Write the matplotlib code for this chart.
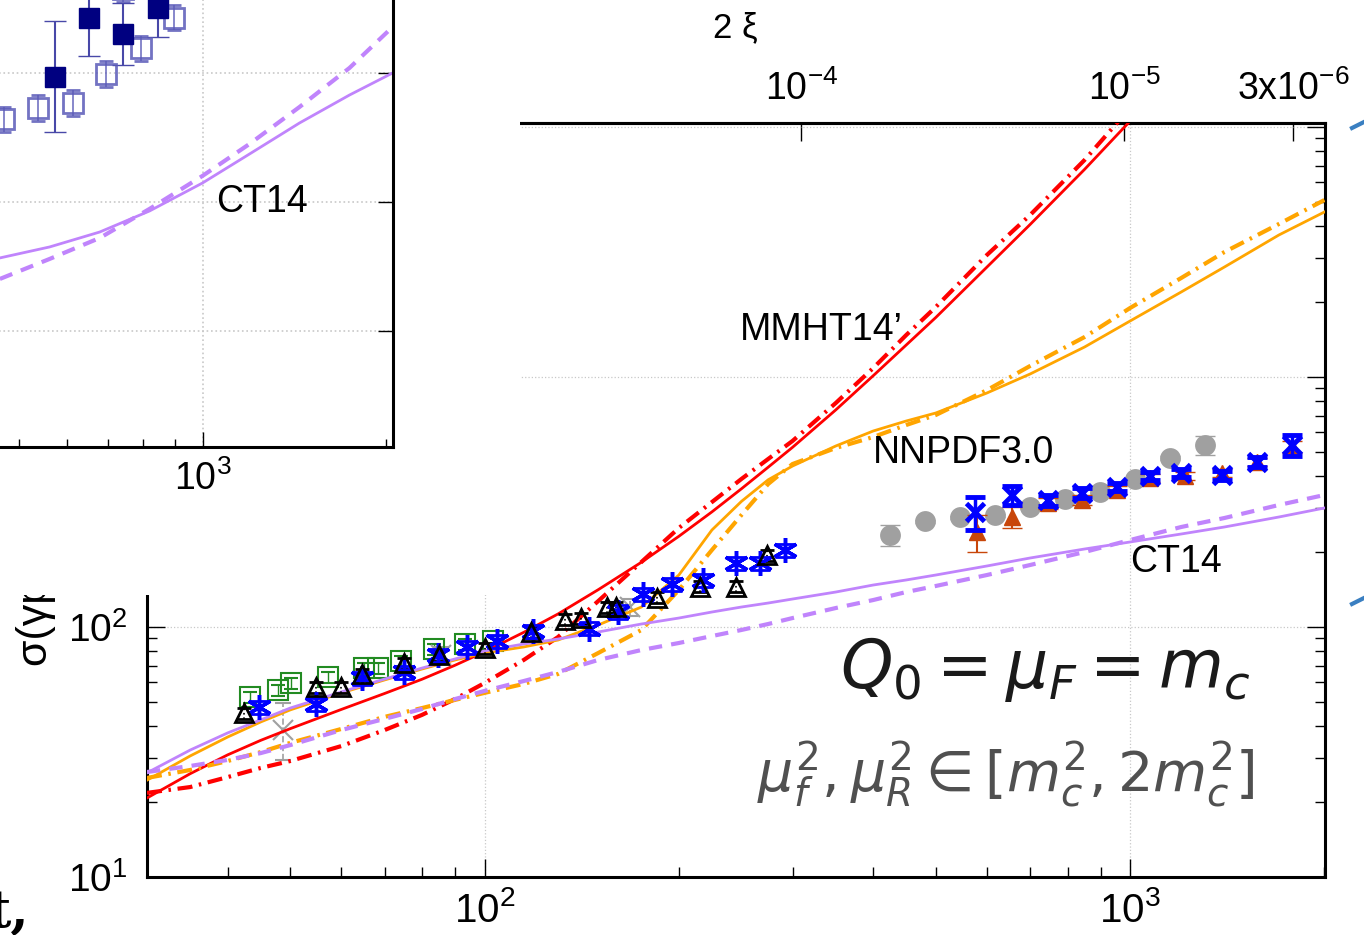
import numpy as np
import matplotlib
matplotlib.use("Agg")
import matplotlib.pyplot as plt
from matplotlib.patches import Rectangle
from matplotlib.lines import Line2D
from matplotlib.ticker import FixedLocator, NullFormatter, NullLocator

plt.rcParams['font.family'] = ['Liberation Sans', 'DejaVu Sans']
plt.rcParams['mathtext.fontset'] = 'custom'
plt.rcParams['mathtext.rm'] = 'Liberation Sans'
plt.rcParams['mathtext.it'] = 'Liberation Sans:italic'
plt.rcParams['mathtext.bf'] = 'Liberation Sans:bold'

# theory curves, W in GeV, sigma in nb
W = [30, 35, 40, 45, 50, 60, 70, 80, 90, 100, 115, 130, 150, 175, 200, 225, 250, 275,
     300, 350, 400, 450, 500, 600, 700, 850, 1000, 1200, 1400, 1700, 2000]
mmht = [20.7, 25.9, 30.8, 35.2, 39.2, 46.8, 54.2, 61.8, 70.3, 79.6, 95.2, 112.8, 141,
        181.6, 230.6, 288.7, 357.2, 435.7, 523.4, 738.6, 1012, 1343, 1730, 2751, 4074,
        6767, 10560, 17460, 26760, 46720, 73730]
mmht_dd = [21.7, 22.9, 25.1, 27.3, 29.1, 33.4, 38.7, 44.5, 51.5, 59.7, 73.8, 91.2, 127,
           182, 249, 316, 391, 470, 555, 787, 1086, 1472, 1905, 3076, 4446, 7379, 11910,
           18880, 27290, 45290, 71780]
nnpdf = [24.4, 30.5, 36.3, 41.7, 46.6, 54.5, 61.4, 67.9, 73.8, 78.7, 83.2, 88.7, 101.9,
         120.2, 161.4, 244.3, 318, 388, 440.5, 529.7, 608.1, 666.8, 717.8, 863, 1028,
         1318, 1675, 2188, 2754, 3698, 4571]
nnpdf_dd = [24.9, 26.8, 29.1, 31.6, 34.4, 39.1, 43.7, 47.4, 51.1, 54.5, 59.2, 64.9, 78.7,
            97.3, 140.6, 203.2, 280.5, 373.3, 448.7, 520, 575.4, 642.7, 704.7, 886, 1107,
            1445, 1888, 2489, 3162, 4093, 5105]
ct14 = [26.1, 32.2, 37.7, 42.5, 47.4, 55, 61.9, 68.5, 74.5, 80.2, 85.5, 89.5, 95.5, 102.8,
        108.6, 114.8, 120.2, 124.7, 129.4, 138, 147.2, 154.2, 161.4, 175.4, 188.8, 205.1,
        218.8, 235.5, 251.2, 275.4, 299.2]
ct14_dash = [26.3, 27.8, 29.4, 31.3, 33.7, 38.7, 42.9, 47, 51.5, 55.5, 60.8, 66.1, 73.8,
             80.9, 86.3, 92, 97.3, 102.8, 108.6, 119.1, 128.2, 138, 145.9, 161.4, 177,
             199.5, 222.8, 251.2, 272.9, 307.6, 337.3]

# data points
tri_W = [42.4, 54.8, 59.9, 64.7, 75, 84.9, 100, 118, 133, 141, 155, 160, 185, 216, 245, 274]
tri_s = [45.3, 57.5, 57.5, 64.9, 71.8, 77.3, 82.4, 95.5, 107, 108.6, 120, 120, 131, 145, 145, 194]

star_W = [44.7, 54.8, 64.7, 75, 84.6, 94.1, 104.4, 118.7, 144.9, 161, 176, 195.4, 218, 245, 267, 292]
star_s = [47.9, 49.2, 62.5, 66.1, 77.3, 83.2, 87.9, 96.4, 98.6, 115, 135.5, 148.6, 154, 180, 180, 203]

sq_W = [43.3, 47.8, 50.1, 57.2, 65, 68.3, 74.1, 83.4, 93.1, 102.9]
sq_s = [52.5, 56, 59.7, 63.1, 68.5, 68.5, 73.1, 81.7, 85.5, 87.9]

gx_W = [48.8, 85.5, 168]
gx_s = [38.7, 77.3, 120]
gx_lo = [9.3, 6, 9]
gx_hi = [11, 6, 9]

gc_W = [425, 482, 546, 618, 700, 793, 899, 1018, 1153, 1306]
gc_s = [233, 265, 275, 280, 302, 325, 347, 391, 474, 535]
gc_err = [22, 4, 4, 4, 5, 5, 5, 6, 7, 46]

bt_W = [580, 657, 747, 843, 955, 1074, 1217, 1388, 1573, 1782]
bt_s = [240, 275, 313, 322, 353, 394, 402, 413, 457, 525]
bt_err = [40, 26, 16, 14, 12, 14, 14, 14, 18, 30]

bx_W = [575, 657, 747, 843, 955, 1074, 1200, 1388, 1573, 1782]
bx_s = [288, 337, 322, 344, 363, 402, 413, 405, 457, 535]
bx_err = [43, 30, 16, 16, 14, 14, 14, 16, 22, 50]

# inset panel (linear y)
in_W = [466, 562, 679, 819, 1000, 1194, 1441, 1740, 2047]
in_ct14 = [156.6, 165.1, 176.7, 193.0, 214.7, 237.2, 261.2, 282.9, 300]
in_ct14_dash = [140.3, 155.8, 172.1, 194.6, 220.2, 245, 273.6, 303.9, 335.7]
in_f_W = [573, 651, 740, 844]
in_f_s = [297, 343, 330, 350]
in_f_err = [43, 30, 24, 22]
in_o_W = [474, 537, 613, 696, 740, 792, 897, 960]
in_o_s = [264, 273, 277, 299, 365, 319, 343, 372]

red = '#ff0000'
orange = '#ffa500'
purple = '#c084fc'
blue = '#0000ff'

fig = plt.figure(figsize=(13.64, 9.35), dpi=100)
ax = fig.add_axes([147/1364, 58/935, 1178/1364, 754/935])
ax.set_xscale('log')
ax.set_yscale('log')
ax.set_xlim(30, 2004)
ax.set_ylim(10, 10375)

ax.plot(W, mmht, color=red, lw=2, zorder=4)
ax.plot(W, mmht_dd, color=red, lw=3, ls=(0, (3.6, 1.6, 0.6, 1.6)), zorder=4)
ax.plot(W, nnpdf, color=orange, lw=2, zorder=4)
ax.plot(W, nnpdf_dd, color=orange, lw=3, ls=(0, (3.6, 1.6, 0.6, 1.6)), zorder=4)
ax.plot(W, ct14, color=purple, lw=2, zorder=4)
ax.plot(W, ct14_dash, color=purple, lw=3, ls=(0, (3.2, 2.2)), zorder=4)

# markers
ax.errorbar(sq_W, sq_s, yerr=np.array(sq_s)*0.05, fmt='s', ms=15, mfc='none',
            mec='#228b22', mew=1.5, ecolor='#228b22', elinewidth=1, capsize=5, zorder=3)
eb = ax.errorbar(gx_W, gx_s, yerr=[gx_lo, gx_hi], fmt='x', ms=14, mew=1.5,
                 color='#a0a0a0', ecolor='#a0a0a0', elinewidth=1.2, capsize=6, zorder=3)
eb[2][0].set_linestyle('--')
eb = ax.errorbar(tri_W, tri_s, yerr=np.array(tri_s)*0.05, fmt='^', ms=13, mfc='none',
                 mec='black', mew=2, ecolor='black', elinewidth=1.2, capsize=5, zorder=5)
eb[2][0].set_linestyle(':')
ax.errorbar(star_W, star_s, yerr=np.array(star_s)*0.06, fmt='none',
            ecolor=blue, elinewidth=2, capsize=7, capthick=2, zorder=5)
ax.plot(star_W, star_s, ls='none', marker=(6, 2, 0), ms=18, mec=blue, mew=2.5, zorder=5)

ax.errorbar(gc_W, gc_s, yerr=gc_err, fmt='o', ms=15, color='#a0a0a0', mec='none',
            ecolor='#a0a0a0', elinewidth=1.5, capsize=7, zorder=3)
ax.errorbar(bt_W, bt_s, yerr=bt_err, fmt='^', ms=12, color='#c8460a', mec='#c8460a',
            ecolor='#c8460a', elinewidth=1.5, capsize=7, zorder=4)
ax.errorbar(bx_W, bx_s, yerr=bx_err, fmt='x', ms=13, mew=3.5, color=blue,
            ecolor=blue, elinewidth=2.5, capsize=7, capthick=3, zorder=5)

# axes styling
ax.grid(True, which='major', ls=':', color='#c8c8c8', lw=0.9)
for s in ['left', 'bottom', 'right', 'top']:
    ax.spines[s].set_linewidth(2.2)
ax.tick_params(which='both', direction='in', right=True, top=False, width=1)
ax.tick_params(which='major', length=13, labelsize=29, pad=10)
ax.tick_params(which='minor', length=7)
ax.tick_params(axis='y', which='major', pad=14, labelsize=28)
ax.xaxis.set_minor_formatter(NullFormatter())
ax.yaxis.set_minor_formatter(NullFormatter())

# top axis in 2 xi
def w2xi(w):
    w = np.asarray(w, float)
    w = np.where(w > 0, w, np.nan)
    return 9.59 / w**2

def xi2w(t):
    t = np.asarray(t, float)
    t = np.where(t > 0, t, np.nan)
    return np.sqrt(9.59 / t)

sec = ax.secondary_xaxis('top', functions=(w2xi, xi2w))
sec.set_xticks([1e-4, 1e-5, 3e-6])
sec.set_xticklabels([r'$\mathdefault{10^{-4}}$', r'$\mathdefault{10^{-5}}$',
                     r'$\mathdefault{3x10^{-6}}$'])
sec.xaxis.set_minor_locator(NullLocator())
sec.tick_params(direction='in', length=13, width=1, pad=11, labelsize=27)
sec.spines['top'].set_linewidth(2.2)

ax.text(249, 1542, 'MMHT14\u2019', fontsize=27, va='center', ha='left', zorder=6)
ax.text(399, 497, 'NNPDF3.0', fontsize=27, va='center', ha='left', zorder=6)
ax.text(1000, 182, 'CT14', fontsize=27, va='center', ha='left', zorder=6)

fig.text(1045/1364, (935-670)/935, r'$Q_0 = \mu_F = m_c$', fontsize=48,
         ha='center', va='center', math_fontfamily='dejavusans', color='#1a1a1a', zorder=6)
fig.text(1006/1364, (935-775)/935, r'$\mu_f^2, \mu_R^2 \in [m_c^2, 2m_c^2]$', fontsize=40,
         ha='center', va='center', math_fontfamily='dejavusans', color='#505050', zorder=6)

fig.text(735/1364, (935-28)/935, '2 \u03be', fontsize=25, ha='center', va='center')

# y label, partly hidden by the panel above
fig.text(56/1364, (935-666)/935, '\u03c3(\u03b3p \u2192 J/\u03c8 p) (nb)', fontsize=31,
         rotation=90, rotation_mode='anchor', ha='left', va='bottom', zorder=3)

# white cover over upper-left corner
fig.add_artist(Rectangle((0, 340/935), 520/1364, 595/935, transform=fig.transFigure,
                         facecolor='white', edgecolor='none', zorder=5))

# inset panel (cropped at the image edges)
axi = fig.add_axes([-408.5/1364, 488/935, 801.5/1364, 503/935], zorder=10)
axi.set_xscale('log')
axi.set_xlim(100, 2050)
axi.set_ylim(10, 400)
axi.plot(in_W, in_ct14, color=purple, lw=2)
axi.plot(in_W, in_ct14_dash, color=purple, lw=3, ls=(0, (3.2, 2.2)))
axi.errorbar(in_o_W, in_o_s, yerr=10, fmt='s', ms=15, mfc='none', mec='#5a5ab8',
             mew=2, ecolor='#5a5ab8', elinewidth=1.2, capsize=5, alpha=0.85)
axi.errorbar(in_f_W, in_f_s, yerr=in_f_err, fmt='s', ms=14, color='#000080',
             ecolor='#4848a8', elinewidth=1.5, capsize=8)
axi.text(1054, 200, 'CT14', fontsize=27, va='center', ha='left')
axi.set_xticks([1000])
axi.yaxis.set_major_locator(FixedLocator([100, 200, 300]))
axi.grid(True, which='major', ls=':', color='#c8c8c8', lw=1.2)
for s in ['left', 'bottom', 'right', 'top']:
    axi.spines[s].set_linewidth(2.2)
axi.tick_params(which='both', direction='in', left=False, right=True, top=False,
                labelleft=False, labelright=False, width=1)
axi.tick_params(which='major', length=11, labelsize=27, pad=10)
axi.tick_params(which='minor', length=6)
axi.xaxis.set_minor_formatter(NullFormatter())

# stray bits at the image edges
fig.add_artist(Line2D([1352/1364, 1364/1364], [(935-128)/935, (935-122)/935],
                      transform=fig.transFigure, color='#3a7fc1', lw=3))
fig.add_artist(Line2D([1352/1364, 1364/1364], [(935-604)/935, (935-598)/935],
                      transform=fig.transFigure, color='#3a7fc1', lw=3))
fig.text(30/1364, 8/935, 't,', fontsize=38, fontweight='bold', family='DejaVu Serif',
         ha='right', va='baseline')

fig.savefig('out.png', dpi=100)
